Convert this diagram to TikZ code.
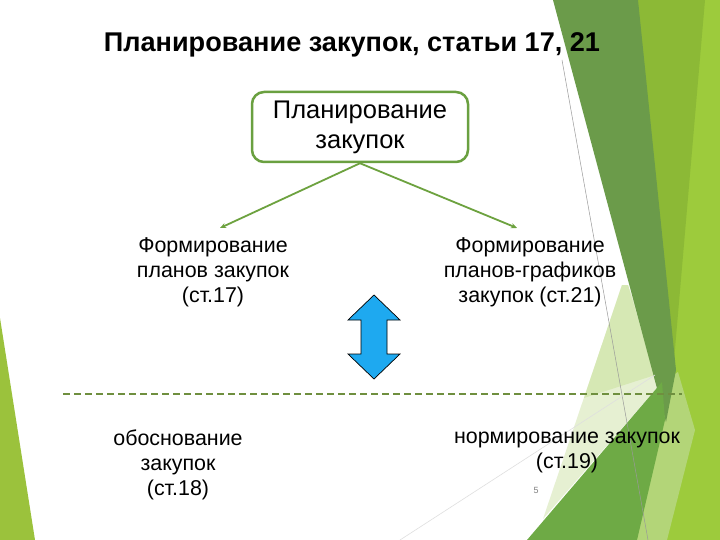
\documentclass[tikz,border=0pt]{standalone}
\usepackage{fontspec}
\setmainfont{Liberation Sans}
\usetikzlibrary{arrows.meta}
\definecolor{leftlime}{HTML}{9BC23C}
\definecolor{darkgreen}{HTML}{6B9B4A}
\definecolor{ygreen}{HTML}{8CB936}
\definecolor{limeg}{HTML}{9DCB3C}
\definecolor{medgreen}{HTML}{6EAA45}
\definecolor{paleg}{HTML}{D6E8B4}
\definecolor{paleg2}{HTML}{E6F0D2}
\definecolor{palelime}{HTML}{B3D578}
\definecolor{boxgreen}{HTML}{6AA040}
\definecolor{arrowgreen}{HTML}{6DA23F}
\definecolor{dashgreen}{HTML}{6F8F3F}
\definecolor{skyblue}{HTML}{1EA9F0}
\tikzset{
  lbl/.style={align=center, inner sep=0pt, font=\fontsize{21.5}{25}\selectfont},
  garrow/.style={draw=arrowgreen, line width=1.8bp, -{Stealth[length=6bp,width=5bp]}},
  dashline/.style={draw=dashgreen, line width=1.8bp, dash pattern=on 7bp off 4bp},
  thinline/.style={draw=gray!80, line width=0.5bp},
}
\begin{document}
\begin{tikzpicture}[x=1bp,y=-1bp]
\useasboundingbox (0,0) rectangle (720,540);
\fill[white] (0,0) rectangle (720,540);
% background facets
\fill[leftlime] (0,318) -- (35,540) -- (0,540) -- cycle;
\fill[limeg] (690,0) -- (720,0) -- (720,540) -- (620,540) -- (668,400) -- cycle;
\fill[ygreen] (636,0) -- (705,0) -- (668,430) -- cycle;
\fill[paleg2] (622,285) -- (543,519) -- (662,382) -- (628,285) -- cycle;
\fill[paleg] (622,285) -- (584,398) -- (655,375) -- (628,285) -- cycle;
\fill[palelime] (662,382) -- (678,372) -- (695,430) -- (667,540) -- (637,540) -- cycle;
\fill[darkgreen] (553,0) -- (638,0) -- (676,370) -- (666,422) -- cycle;
\fill[medgreen] (527,540) -- (662,382) -- (665,420) -- (637,540) -- cycle;
\draw[thinline] (562,60) -- (648,540);
\draw[draw=gray!25, line width=0.6bp] (400,540) -- (655,375);
% content
\node[font=\bfseries\fontsize{27.2}{32}\selectfont, inner sep=0pt] (title) at (352,45) {Планирование закупок, статьи 17, 21};
\node[draw=boxgreen, line width=2.5bp, rounded corners=12bp, minimum width=216bp, minimum height=70bp, align=center, fill=white, font=\fontsize{25.6}{30}\selectfont] (plan) at (360,127) {Планирование\\закупок};
\coordinate (a1) at (220,228);
\coordinate (a2) at (517,228);
\draw[garrow] (plan.south) -- (a1);
\draw[garrow] (plan.south) -- (a2);
\node[lbl] (f17) at (213,272) {Формирование\\планов закупок\\(ст.17)};
\node[lbl] (f21) at (530,272) {Формирование\\планов-графиков\\закупок (ст.21)};
\fill[skyblue, draw=black, line width=0.7bp] (374,295) -- (400,320) -- (387,320) -- (387,354) -- (400,354) -- (374,379) -- (348,354) -- (361,354) -- (361,320) -- (348,320) -- cycle;
\coordinate (d1) at (63,394);
\coordinate (d2) at (682,394);
\draw[dashline] (d1) -- (d2);
\node[lbl] (f18) at (178,465) {обоснование\\закупок\\(ст.18)};
\node[lbl] (f19) at (567,452.5) {нормирование закупок\\(ст.19)};
\node[font=\fontsize{9}{10}\selectfont, text=gray, inner sep=0pt] (pg) at (536,490) {5};
\end{tikzpicture}
\end{document}
